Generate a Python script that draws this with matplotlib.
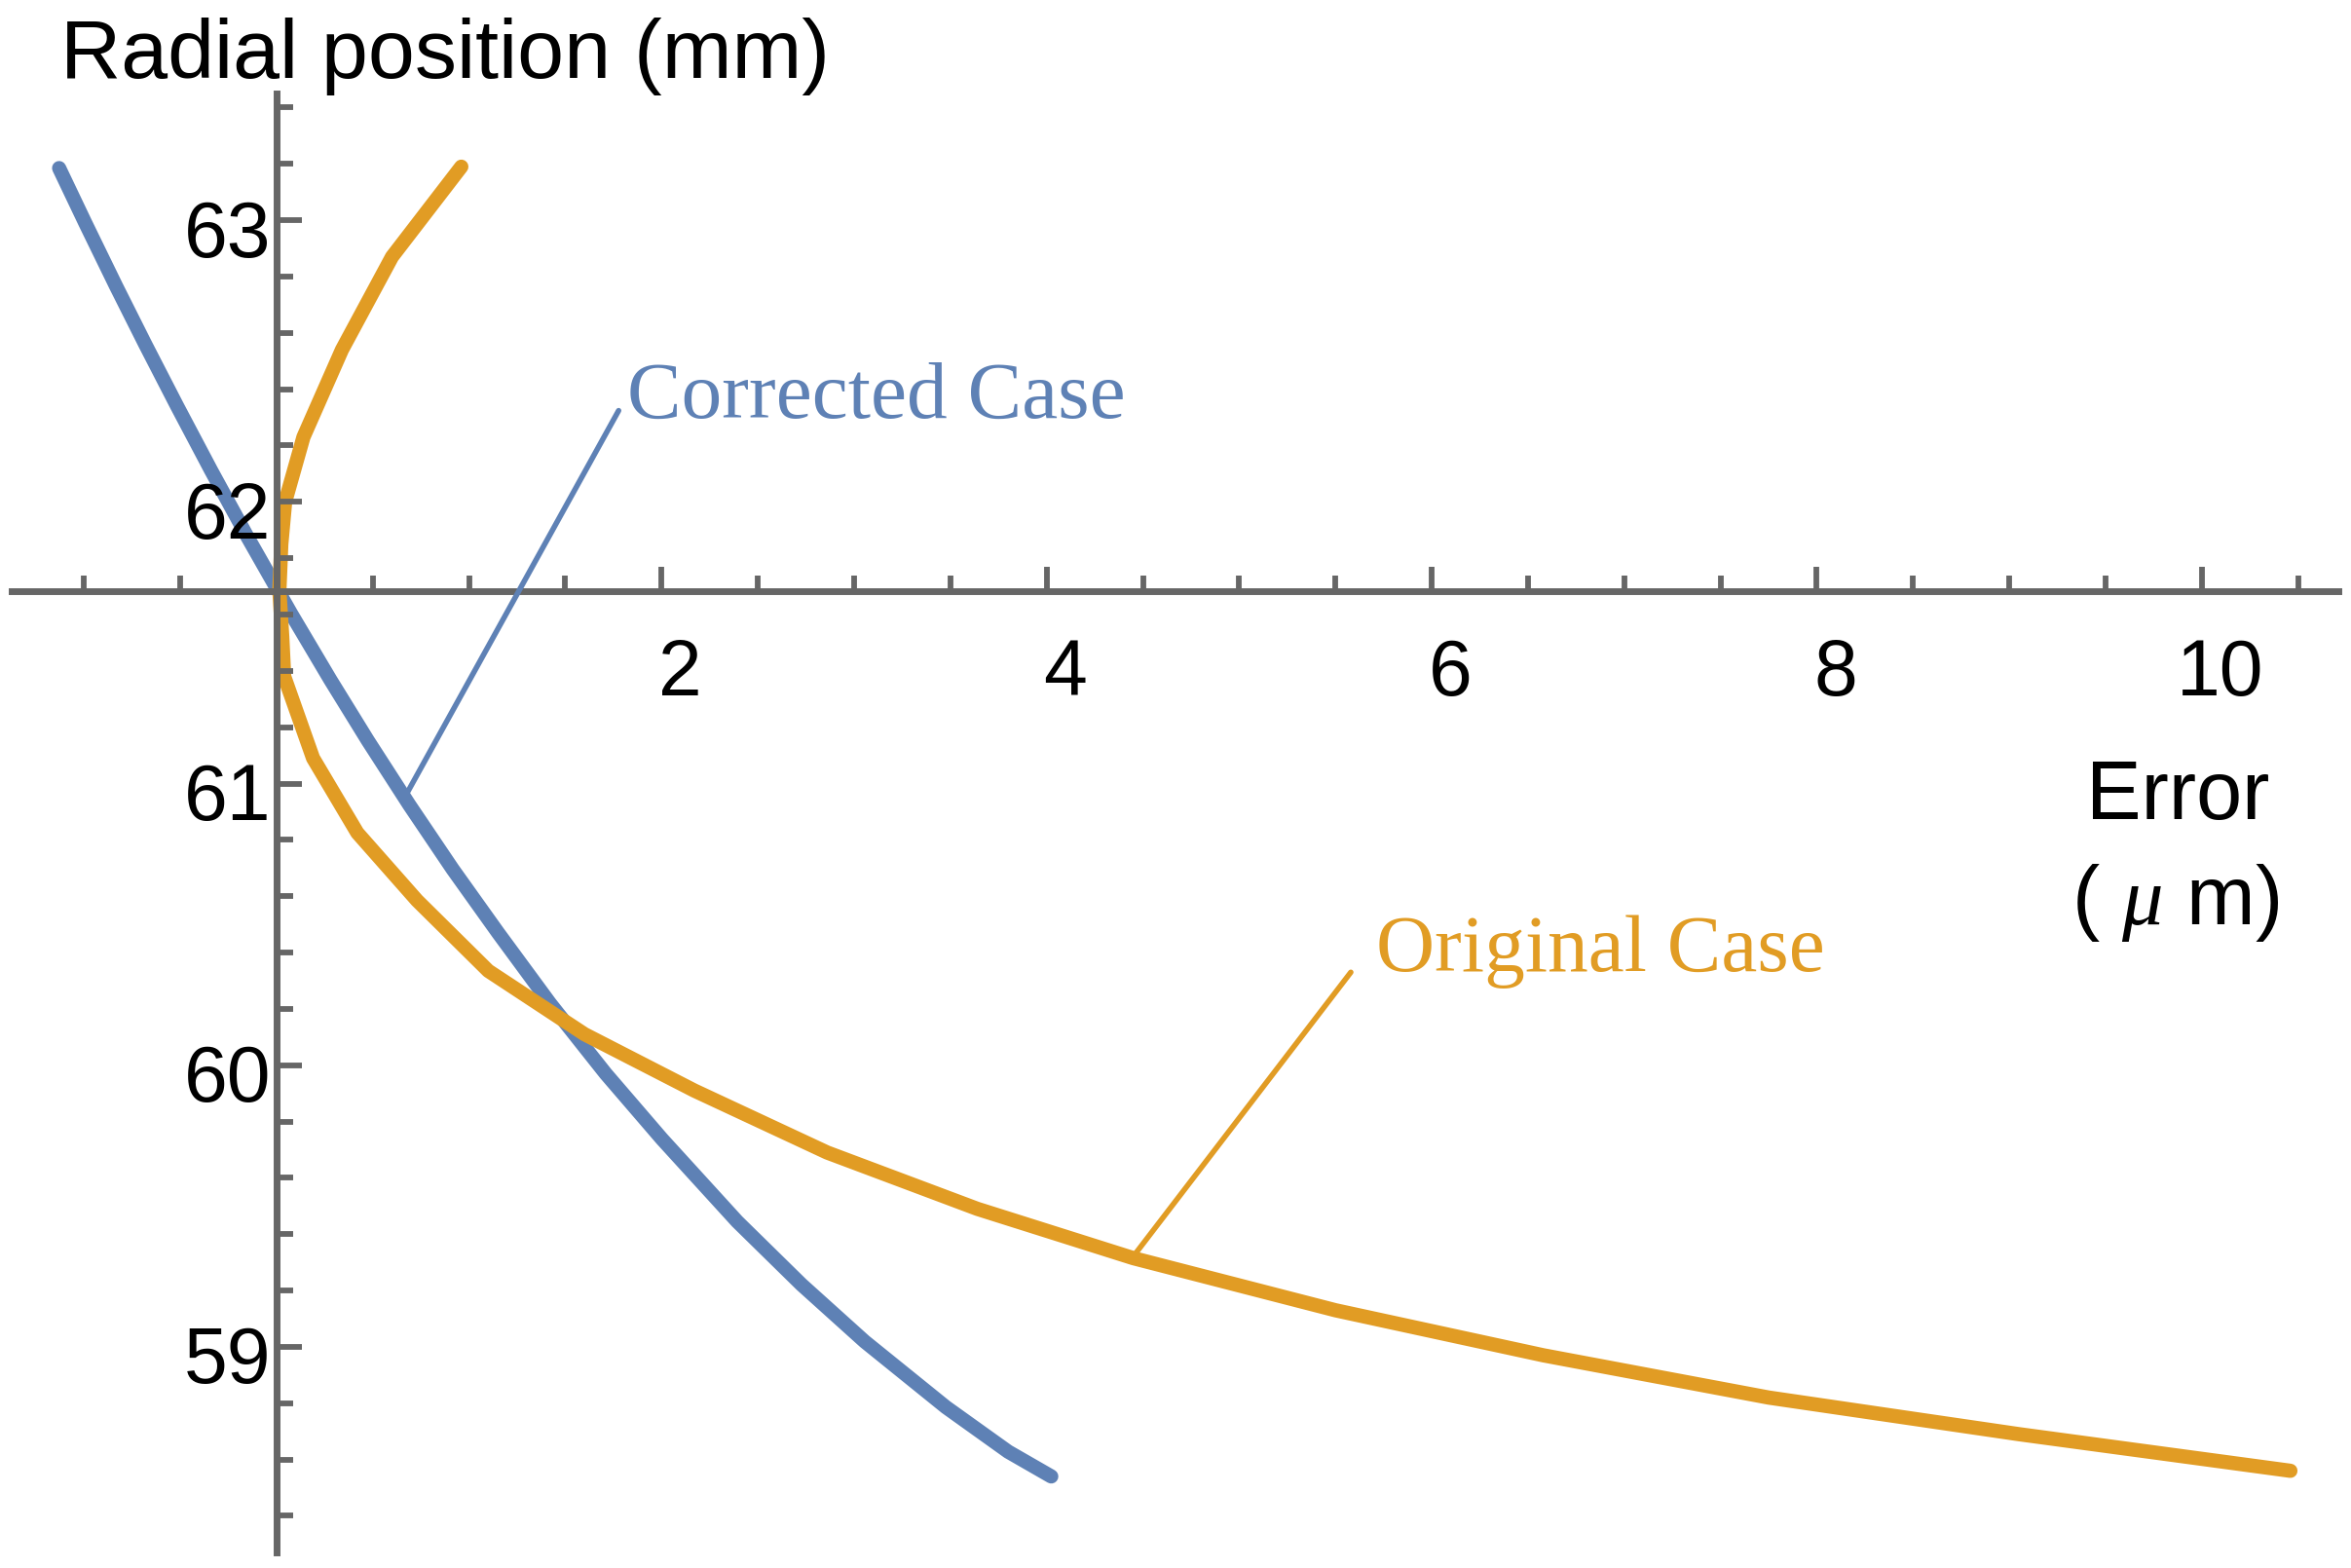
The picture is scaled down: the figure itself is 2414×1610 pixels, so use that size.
import numpy as np
import matplotlib
matplotlib.use('Agg')
import matplotlib.pyplot as plt
from matplotlib import transforms
from matplotlib.ticker import FixedLocator, MultipleLocator

plt.rcParams['font.family'] = ['Liberation Sans', 'DejaVu Sans']
plt.rcParams['mathtext.fontset'] = 'custom'
plt.rcParams['mathtext.it'] = 'Liberation Serif:italic'
plt.rcParams['mathtext.rm'] = 'Liberation Sans'

# Corrected case: error (um) vs radial position (mm)
corr_err = [-1.129, -0.993, -0.834, -0.682, -0.517, -0.34, -0.152, 0.076, 0.28,
            0.474, 0.69, 0.915, 1.151, 1.42, 1.71, 2.002, 2.393, 2.727, 3.055,
            3.477, 3.80, 4.024]
corr_r = [63.185, 62.99, 62.767, 62.56, 62.341, 62.112, 61.877, 61.603, 61.368,
          61.153, 60.924, 60.696, 60.47, 60.22, 59.97, 59.738, 59.445, 59.221, 59.019,
          58.786, 58.628, 58.54]

# Original case
orig_err = [0.96, 0.60, 0.34, 0.14, 0.045, 0.025, 0.015, 0.03, 0.04, 0.19, 0.42,
            0.73, 1.10, 1.60, 2.17, 2.86, 3.64, 4.45, 5.50, 6.58, 7.75, 9.05, 10.46]
orig_r = [63.19, 62.87, 62.54, 62.23, 62.00, 61.85, 61.685, 61.52, 61.38, 61.09, 60.825,
          60.585, 60.335, 60.11, 59.91, 59.69, 59.49, 59.315, 59.13, 58.97, 58.82, 58.69, 58.56]

x_ticks = [2, 4, 6, 8, 10]
y_ticks = [59, 60, 61, 62, 63]
axis_cross_r = 61.684

# label anchors (text position, leader start, leader end on curve)
corr_label = (1.82, 62.30)
corr_leader = [(1.777, 62.324), (0.665, 60.95)]
orig_label = (5.71, 60.333)
orig_leader = [(5.58, 60.33), (4.46, 59.33)]

BLUE = '#5E81B5'
ORANGE = '#E19C24'
GREY = '#666666'

fig = plt.figure(figsize=(24.14, 16.10), dpi=100)
ax = fig.add_axes([0.005, 0.0099, 0.9897, 0.9305])
ax.set_xlim(-1.375, 10.71)
ax.set_ylim(58.27, 63.45)
ax.set_axisbelow(False)  # axes are drawn over the curves

for s in ['top', 'right']:
    ax.spines[s].set_visible(False)
ax.spines['left'].set_position(('data', 0))
ax.spines['bottom'].set_position(('data', axis_cross_r))
for s in ['left', 'bottom']:
    ax.spines[s].set_color(GREY)
    ax.spines[s].set_linewidth(5)

ax.xaxis.set_major_locator(FixedLocator(x_ticks))
ax.xaxis.set_minor_locator(MultipleLocator(0.5))
ax.yaxis.set_major_locator(FixedLocator(y_ticks))
ax.yaxis.set_minor_locator(MultipleLocator(0.2))
ax.set_xticklabels([str(t) for t in x_ticks])
ax.set_yticklabels([str(t) for t in y_ticks])

ax.tick_params(which='both', direction='in', color=GREY, width=4.2, labelsize=58)
ax.tick_params(axis='x', which='major', length=18, pad=35)
ax.tick_params(axis='x', which='minor', length=11.5)
ax.tick_params(axis='y', which='major', length=19, pad=4)
ax.tick_params(axis='y', which='minor', length=12.5)

# Mathematica puts the labels a little off the ticks
off_x = transforms.ScaledTranslation(19 / 100, 0, fig.dpi_scale_trans)
for lab in ax.get_xticklabels():
    lab.set_transform(lab.get_transform() + off_x)
off_y = transforms.ScaledTranslation(0, -8 / 100, fig.dpi_scale_trans)
for lab in ax.get_yticklabels():
    lab.set_transform(lab.get_transform() + off_y)

ax.plot(corr_err, corr_r, color=BLUE, lw=10.5, solid_capstyle='round',
        solid_joinstyle='round', zorder=2)
ax.plot(orig_err, orig_r, color=ORANGE, lw=10.5, solid_capstyle='round',
        solid_joinstyle='round', zorder=2)

ax.annotate('', xy=corr_leader[1], xytext=corr_leader[0],
            arrowprops=dict(arrowstyle='-', color=BLUE, lw=4, shrinkA=0, shrinkB=0))
ax.text(corr_label[0], corr_label[1], 'Corrected Case', color=BLUE,
        family='Liberation Serif', fontsize=60, va='baseline', ha='left')
ax.annotate('', xy=orig_leader[1], xytext=orig_leader[0],
            arrowprops=dict(arrowstyle='-', color=ORANGE, lw=4, shrinkA=0, shrinkB=0))
ax.text(orig_label[0], orig_label[1], 'Original Case', color=ORANGE,
        family='Liberation Serif', fontsize=60, va='baseline', ha='left')

fig.text(62 / 2414, 1 - 80 / 1610, 'Radial position (mm)', fontsize=62,
         va='baseline', ha='left')
fig.text(2236 / 2414, 1 - 841.5 / 1610, 'Error', fontsize=61,
         va='baseline', ha='center')
fig.text(2234 / 2414, 1 - 948.6 / 1610, r'( $\mu$ m)', fontsize=61,
         va='baseline', ha='center')

fig.savefig('out.png', dpi=100)
